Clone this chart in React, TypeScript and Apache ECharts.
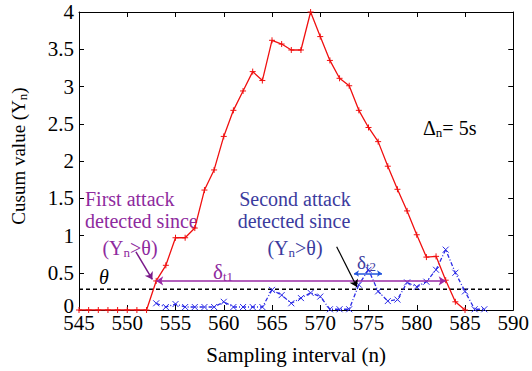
import React, { useEffect, useRef } from "react";
import * as echarts from "echarts";

// ---- data ----
const redN = [545, 546, 547, 548, 549, 550, 551, 552, 553, 554, 555, 556, 557, 558, 559, 560, 561, 562, 563, 564, 565, 566, 567, 568, 569, 570, 571, 572, 573, 574, 575, 576, 577, 578, 579, 580, 581, 582, 583, 584, 585];
const redY = [0, 0, 0, 0, 0, 0, 0, 0, 0.39, 0.6, 0.97, 0.97, 1.1, 1.61, 1.88, 2.33, 2.68, 2.94, 3.2, 3.08, 3.62, 3.57, 3.49, 3.49, 4.0, 3.67, 3.35, 3.11, 3.01, 2.68, 2.45, 2.26, 1.93, 1.62, 1.33, 1.01, 0.71, 0.72, 0.4, 0.11, 0.0];
const blueN = [553, 554, 555, 556, 557, 558, 559, 560, 561, 562, 563, 564, 565, 566, 567, 568, 569, 570, 571, 572, 573, 574, 575, 576, 577, 578, 579, 580, 581, 582, 583, 584, 585, 586, 587];
const blueY = [0.09, 0.04, 0.08, 0.04, 0.04, 0.04, 0.04, 0.11, 0.04, 0.04, 0.04, 0.04, 0.27, 0.2, 0.09, 0.16, 0.23, 0.18, 0.01, 0.01, 0.01, 0.34, 0.54, 0.25, 0.12, 0.14, 0.37, 0.31, 0.38, 0.54, 0.81, 0.5, 0.25, 0.01, 0.01];
const xMin = 545;
const xMax = 590;
const xStep = 5;
const yMin = 0;
const yMax = 4;
const yStep = 0.5;
const theta = 0.28;
const delta1 = [553, 583, 0.39];
const delta2 = [573.5, 576.4, 0.49];
const arrowFirst = [550.9, 0.78, 552.6, 0.41];
const arrowSecond = [571.7, 0.85, 573.8, 0.31];

const FONT = "Liberation Serif";
const PURPLE = "#9a2aa6";
const PURPLE_TXT = "#8e2a9e";
const BLUE = "#2a2ae6";
const BLUE_TXT = "#3b3b9e";
const RED = "#f01010";

const plus = "path://M0,-1L0,1M-1,0L1,0";
const cross = "path://M-1,-1L1,1M-1,1L1,-1";

export default function App() {
  const ref = useRef<HTMLDivElement>(null);
  useEffect(() => {
    if (!ref.current) return;
    const chart = echarts.init(ref.current, null, { renderer: "svg" });
    const axisCommon = {
      type: "value" as const,
      axisLine: { show: true, onZero: false, lineStyle: { color: "#000", width: 1 } },
      axisTick: { show: true, inside: true, length: 5, lineStyle: { color: "#000" } },
      splitLine: { show: false },
    };
    const sub = { fontSize: 13, fontFamily: FONT, verticalAlign: "bottom", padding: [9, 0, 0, 0] };
    const option: any = {
      animation: false,
      backgroundColor: "#fff",
      textStyle: { fontFamily: FONT },
      grid: { left: 79, right: 15, top: 12, bottom: 61 },
      xAxis: [
        {
          ...axisCommon,
          min: xMin,
          max: xMax,
          interval: xStep,
          position: "bottom",
          axisLabel: { fontSize: 21, color: "#000", fontFamily: FONT, margin: 7, lineHeight: 12 },
          name: "Sampling interval (n)",
          nameLocation: "middle",
          nameGap: 34,
          nameTextStyle: { fontSize: 21, color: "#000", fontFamily: FONT },
        },
        { ...axisCommon, min: xMin, max: xMax, interval: xStep, position: "top", axisLabel: { show: false } },
      ],
      yAxis: [
        {
          ...axisCommon,
          min: yMin,
          max: yMax,
          interval: yStep,
          position: "left",
          axisLabel: {
            fontSize: 21,
            color: "#000",
            fontFamily: FONT,
            margin: 5,
            lineHeight: 12,
            formatter: (v: number) => (v === 0 ? "{z|0}" : String(v)),
            rich: { z: { fontSize: 21, fontFamily: FONT, color: "#000", lineHeight: 12, padding: [0, 0, 8, 0] } },
          },
        },
        { ...axisCommon, min: yMin, max: yMax, interval: yStep, position: "right", axisLabel: { show: false } },
      ],
      series: [
        {
          type: "line",
          data: [[xMin, theta], [xMax, theta]],
          symbol: "none",
          lineStyle: { color: "#000", width: 1.5, type: [4, 3] },
          z: 1,
          markLine: {
            silent: true,
            symbolSize: 7,
            label: { show: false },
            data: [
              [
                { coord: [delta1[0], delta1[2]], symbol: "arrow", lineStyle: { color: PURPLE, width: 1.5, type: "solid" } },
                { coord: [delta1[1], delta1[2]], symbol: "arrow" },
              ],
              [
                { coord: [delta2[0], delta2[2]], symbol: "arrow", symbolSize: 5, lineStyle: { color: "#2255dd", width: 1.5, type: "solid" } },
                { coord: [delta2[1], delta2[2]], symbol: "arrow", symbolSize: 5 },
              ],
              [
                { coord: [arrowFirst[0], arrowFirst[1]], symbol: "none", lineStyle: { color: "#7a1a8a", width: 1.5, type: "solid" } },
                { coord: [arrowFirst[2], arrowFirst[3]], symbol: "arrow" },
              ],
              [
                { coord: [arrowSecond[0], arrowSecond[1]], symbol: "none", lineStyle: { color: "#000", width: 1.2, type: "solid" } },
                { coord: [arrowSecond[2], arrowSecond[3]], symbol: "arrow" },
              ],
            ],
          },
        },
        {
          type: "line",
          data: blueN.map((n, i) => [n, blueY[i]]),
          symbol: cross,
          symbolSize: 6,
          itemStyle: { color: BLUE, borderColor: BLUE, borderWidth: 1 },
          lineStyle: { color: BLUE, width: 1.3, type: [4, 2, 1, 2] },
          z: 3,
        },
        {
          type: "line",
          data: redN.map((n, i) => [n, redY[i]]),
          symbol: plus,
          symbolSize: 6,
          itemStyle: { color: RED, borderColor: RED, borderWidth: 1 },
          lineStyle: { color: RED, width: 1.3 },
          z: 4,
        },
      ],
      graphic: [
        {
          type: "text",
          x: 18,
          y: 156,
          rotation: Math.PI / 2,
          style: {
            text: "Cusum value (Y{sub|n})",
            fontSize: 19,
            fontFamily: FONT,
            fill: "#000",
            align: "center",
            verticalAlign: "middle",
            rich: { sub },
          },
        },
        { type: "text", x: 85, y: 199, style: { text: "First attack", fontSize: 20, fontFamily: FONT, fill: PURPLE_TXT, align: "left", verticalAlign: "middle" } },
        { type: "text", x: 85, y: 221, style: { text: "detected since", fontSize: 20, fontFamily: FONT, fill: PURPLE_TXT, align: "left", verticalAlign: "middle" } },
        {
          type: "text",
          x: 130,
          y: 248,
          style: { text: "(Y{sub|n}>θ)", fontSize: 20, fontFamily: FONT, fill: PURPLE_TXT, align: "center", verticalAlign: "middle", rich: { sub } },
        },
        { type: "text", x: 295, y: 199, style: { text: "Second attack", fontSize: 20, fontFamily: FONT, fill: BLUE_TXT, align: "center", verticalAlign: "middle" } },
        { type: "text", x: 294, y: 221, style: { text: "detected since", fontSize: 20, fontFamily: FONT, fill: BLUE_TXT, align: "center", verticalAlign: "middle" } },
        {
          type: "text",
          x: 295,
          y: 248,
          style: { text: "(Y{sub|n}>θ)", fontSize: 20, fontFamily: FONT, fill: BLUE_TXT, align: "center", verticalAlign: "middle", rich: { sub } },
        },
        {
          type: "text",
          x: 213,
          y: 272,
          style: { text: "δ{sub|t1}", fontSize: 21, fontFamily: FONT, fill: PURPLE_TXT, align: "left", verticalAlign: "middle", rich: { sub } },
        },
        {
          type: "text",
          x: 357,
          y: 262,
          style: { text: "δ{sub|t2}", fontSize: 19, fontFamily: FONT, fill: BLUE_TXT, align: "left", verticalAlign: "middle", rich: { sub } },
        },
        { type: "text", x: 104, y: 277, style: { text: "θ", fontSize: 20, fontFamily: FONT, fontStyle: "italic", fill: "#000", align: "center", verticalAlign: "middle" } },
        {
          type: "text",
          x: 423,
          y: 128,
          style: { text: "Δ{sub|n}= 5s", fontSize: 20, fontFamily: FONT, fill: "#000", align: "left", verticalAlign: "middle", rich: { sub } },
        },
      ],
    };
    chart.setOption(option);
    return () => chart.dispose();
  }, []);
  return <div ref={ref} style={{ position: "absolute", left: 0, top: 0, width: 532, height: 371, background: "#fff" }} />;
}
